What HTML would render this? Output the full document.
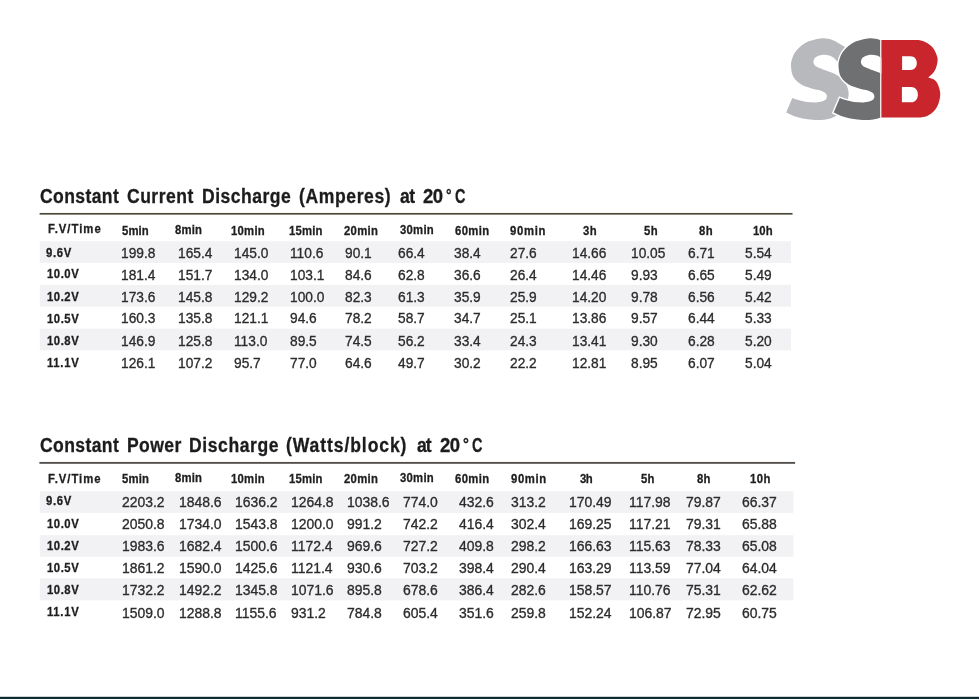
<!DOCTYPE html>
<html><head><meta charset="utf-8"><title>SSB discharge tables</title>
<style>
html,body{margin:0;padding:0;background:#fff;}
body{width:979px;height:699px;position:relative;overflow:hidden;font-family:"Liberation Sans", sans-serif;}
.t{position:absolute;transform-origin:0 0;white-space:nowrap;line-height:20px;height:20px;font-family:"Liberation Sans", sans-serif;}
.r{position:absolute;}
#txt{position:absolute;left:0;top:0;width:979px;height:699px;will-change:transform;}
svg{position:absolute;}
</style></head><body>
<svg style="left:0;top:0" width="979" height="699" viewBox="0 0 979 699"><rect x="39.8" y="241.2" width="751.2" height="21.80" fill="#f2f2f5"/><rect x="39.8" y="284.85" width="751.2" height="21.90" fill="#f2f2f5"/><rect x="39.8" y="328.6" width="751.2" height="21.70" fill="#f2f2f5"/><rect x="39.8" y="491.2" width="753.6" height="21.70" fill="#f2f2f5"/><rect x="39.8" y="535.2" width="753.6" height="21.60" fill="#f2f2f5"/><rect x="39.8" y="578.4" width="753.6" height="21.90" fill="#f2f2f5"/><rect x="39.6" y="212.95" width="752.9" height="1.7" fill="#4d4b37"/><rect x="39.4" y="461.95" width="755.7" height="1.85" fill="#524e4b"/><rect x="0" y="696.8" width="979" height="2.2" fill="#0c2a35"/></svg>
<svg style="left:770px;top:25px" width="190" height="110" viewBox="770 25 190 110">
<path d="M847.5,48.5 C846.67,47.97 846.48,47.78 845.00,46.90 C843.52,46.02 840.60,44.32 838.60,43.20 C836.60,42.08 834.77,40.93 833.00,40.20 C831.23,39.47 829.78,39.12 828.00,38.80 C826.22,38.48 824.45,38.20 822.30,38.30 C820.15,38.40 817.48,38.85 815.10,39.40 C812.72,39.95 810.37,40.52 808.00,41.60 C805.63,42.68 803.05,44.12 800.90,45.90 C798.75,47.68 796.60,50.05 795.10,52.30 C793.60,54.55 792.58,57.27 791.90,59.40 C791.22,61.53 791.00,62.83 791.00,65.10 C791.00,67.37 791.45,70.97 791.90,73.00 C792.35,75.03 792.80,75.87 793.70,77.30 C794.60,78.73 795.75,80.23 797.30,81.60 C798.85,82.97 800.62,84.37 803.00,85.50 C805.38,86.63 808.98,87.63 811.60,88.40 C814.22,89.17 816.60,89.45 818.70,90.10 C820.80,90.75 822.92,91.58 824.20,92.30 C825.48,93.02 825.95,93.67 826.40,94.40 C826.85,95.13 826.95,95.93 826.90,96.70 C826.85,97.47 826.63,98.33 826.10,99.00 C825.57,99.67 825.17,100.15 823.70,100.70 C822.23,101.25 819.57,102.03 817.30,102.30 C815.03,102.57 812.48,102.48 810.10,102.30 C807.72,102.12 805.13,101.62 803.00,101.20 C800.87,100.78 799.08,100.33 797.30,99.80 C795.52,99.27 793.97,98.60 792.30,98.00 L786.2,112.6 C788.70,113.70 790.67,114.88 793.70,115.90 C796.73,116.92 800.83,118.03 804.40,118.70 C807.97,119.37 811.52,119.78 815.10,119.90 C818.68,120.02 822.93,119.78 825.90,119.40 C828.87,119.02 830.38,118.83 832.90,117.60 C835.42,116.37 838.77,114.27 841.00,112.00 C843.23,109.73 845.07,106.57 846.30,104.00 C847.53,101.43 848.05,98.78 848.40,96.60 C848.75,94.42 848.73,92.82 848.40,90.90 C848.07,88.98 847.30,86.95 846.40,85.10 C845.50,83.25 844.40,81.35 843.00,79.80 C841.60,78.25 839.68,76.93 838.00,75.80 C836.32,74.67 835.40,74.07 832.90,73.00 C830.40,71.93 825.72,70.43 823.00,69.40 C820.28,68.37 818.07,67.60 816.60,66.80 C815.13,66.00 814.73,65.43 814.20,64.60 C813.67,63.77 813.40,62.75 813.40,61.80 C813.40,60.85 813.67,59.75 814.20,58.90 C814.73,58.05 815.13,57.38 816.60,56.70 C818.07,56.02 820.88,54.98 823.00,54.80 C825.12,54.62 827.42,55.03 829.30,55.60 C831.18,56.17 832.98,57.23 834.30,58.20 C835.62,59.17 836.17,60.52 837.20,61.40 C838.23,62.28 839.40,62.80 840.50,63.50 Z" fill="#b7b9bc"/>
<g transform="translate(47.5,0)"><path d="M847.5,48.5 C846.67,47.97 846.48,47.78 845.00,46.90 C843.52,46.02 840.60,44.32 838.60,43.20 C836.60,42.08 834.77,40.93 833.00,40.20 C831.23,39.47 829.78,39.12 828.00,38.80 C826.22,38.48 824.45,38.20 822.30,38.30 C820.15,38.40 817.48,38.85 815.10,39.40 C812.72,39.95 810.37,40.52 808.00,41.60 C805.63,42.68 803.05,44.12 800.90,45.90 C798.75,47.68 796.60,50.05 795.10,52.30 C793.60,54.55 792.58,57.27 791.90,59.40 C791.22,61.53 791.00,62.83 791.00,65.10 C791.00,67.37 791.45,70.97 791.90,73.00 C792.35,75.03 792.80,75.87 793.70,77.30 C794.60,78.73 795.75,80.23 797.30,81.60 C798.85,82.97 800.62,84.37 803.00,85.50 C805.38,86.63 808.98,87.63 811.60,88.40 C814.22,89.17 816.60,89.45 818.70,90.10 C820.80,90.75 822.92,91.58 824.20,92.30 C825.48,93.02 825.95,93.67 826.40,94.40 C826.85,95.13 826.95,95.93 826.90,96.70 C826.85,97.47 826.63,98.33 826.10,99.00 C825.57,99.67 825.17,100.15 823.70,100.70 C822.23,101.25 819.57,102.03 817.30,102.30 C815.03,102.57 812.48,102.48 810.10,102.30 C807.72,102.12 805.13,101.62 803.00,101.20 C800.87,100.78 799.08,100.33 797.30,99.80 C795.52,99.27 793.97,98.60 792.30,98.00 L786.2,112.6 C788.70,113.70 790.67,114.88 793.70,115.90 C796.73,116.92 800.83,118.03 804.40,118.70 C807.97,119.37 811.52,119.78 815.10,119.90 C818.68,120.02 822.93,119.78 825.90,119.40 C828.87,119.02 830.38,118.83 832.90,117.60 C835.42,116.37 838.77,114.27 841.00,112.00 C843.23,109.73 845.07,106.57 846.30,104.00 C847.53,101.43 848.05,98.78 848.40,96.60 C848.75,94.42 848.73,92.82 848.40,90.90 C848.07,88.98 847.30,86.95 846.40,85.10 C845.50,83.25 844.40,81.35 843.00,79.80 C841.60,78.25 839.68,76.93 838.00,75.80 C836.32,74.67 835.40,74.07 832.90,73.00 C830.40,71.93 825.72,70.43 823.00,69.40 C820.28,68.37 818.07,67.60 816.60,66.80 C815.13,66.00 814.73,65.43 814.20,64.60 C813.67,63.77 813.40,62.75 813.40,61.80 C813.40,60.85 813.67,59.75 814.20,58.90 C814.73,58.05 815.13,57.38 816.60,56.70 C818.07,56.02 820.88,54.98 823.00,54.80 C825.12,54.62 827.42,55.03 829.30,55.60 C831.18,56.17 832.98,57.23 834.30,58.20 C835.62,59.17 836.17,60.52 837.20,61.40 C838.23,62.28 839.40,62.80 840.50,63.50 Z" fill="#6f7072" stroke="#fff" stroke-width="2.8" paint-order="stroke" stroke-linejoin="miter"/></g>
<path d="M881.4,40.1 H918.6 C921.45,40.58 924.60,41.57 927.10,43.00 C929.60,44.43 931.93,46.43 933.60,48.70 C935.27,50.97 936.45,54.45 937.10,56.60 C937.75,58.75 937.73,59.58 937.50,61.60 C937.27,63.62 936.60,66.62 935.70,68.70 C934.80,70.78 933.35,72.62 932.10,74.10 C930.85,75.58 929.50,76.43 928.20,77.60 C930.23,78.33 932.68,78.67 934.30,79.80 C935.92,80.93 936.95,82.43 937.90,84.40 C938.85,86.37 939.65,89.45 940.00,91.60 C940.35,93.75 940.35,95.05 940.00,97.30 C939.65,99.55 938.97,102.72 937.90,105.10 C936.83,107.48 935.40,109.80 933.60,111.60 C931.80,113.40 929.60,114.90 927.10,115.90 C924.60,116.90 921.45,117.32 918.60,117.60 H881.4 Z M902.1,56.2 H910.5 C914.5,56.2 916.8,59 916.8,63.1 C916.8,67.2 914.5,70.1 910.5,70.1 H902.1 Z M901.9,86.9 H911 C915.4,86.9 917.9,90.2 917.9,94.5 C917.9,98.9 915.4,102.3 911,102.3 H901.9 Z" fill="#c8252c" fill-rule="evenodd"/>
<rect x="880.0" y="40.1" width="1.4" height="77.5" fill="#f1e4e4"/>
</svg>
<div id="txt">
<span class="t" style="left:39.50px;top:186px;font-size:19.5px;color:#1c1c1c;font-weight:700;transform:scaleX(0.9);-webkit-text-stroke:0.3px;letter-spacing:0.437px;">Constant</span>
<span class="t" style="left:127.00px;top:186px;font-size:19.5px;color:#1c1c1c;font-weight:700;transform:scaleX(0.9);-webkit-text-stroke:0.3px;letter-spacing:0.540px;">Current</span>
<span class="t" style="left:201.60px;top:186px;font-size:19.5px;color:#1c1c1c;font-weight:700;transform:scaleX(0.9);-webkit-text-stroke:0.3px;letter-spacing:0.541px;">Discharge</span>
<span class="t" style="left:298.75px;top:186px;font-size:19.5px;color:#1c1c1c;font-weight:700;transform:scaleX(0.9);-webkit-text-stroke:0.3px;letter-spacing:0.680px;">(Amperes)</span>
<span class="t" style="left:400.00px;top:186px;font-size:19.5px;color:#1c1c1c;font-weight:700;transform:scaleX(0.9);-webkit-text-stroke:0.3px;letter-spacing:-0.623px;">at</span>
<span class="t" style="left:423.00px;top:186px;font-size:19.5px;color:#1c1c1c;font-weight:700;transform:scaleX(0.95);-webkit-text-stroke:0.3px;letter-spacing:-0.477px;">20</span>
<span class="t" style="left:454.60px;top:186px;font-size:19.5px;color:#1c1c1c;font-weight:700;transform:scaleX(0.7428571428571412);-webkit-text-stroke:0.3px;">C</span>
<span class="t" style="left:39.50px;top:435px;font-size:19.5px;color:#1c1c1c;font-weight:700;transform:scaleX(0.9);-webkit-text-stroke:0.3px;letter-spacing:0.437px;">Constant</span>
<span class="t" style="left:126.60px;top:435px;font-size:19.5px;color:#1c1c1c;font-weight:700;transform:scaleX(0.9);-webkit-text-stroke:0.3px;letter-spacing:0.448px;">Power</span>
<span class="t" style="left:189.10px;top:435px;font-size:19.5px;color:#1c1c1c;font-weight:700;transform:scaleX(0.9);-webkit-text-stroke:0.3px;letter-spacing:0.646px;">Discharge</span>
<span class="t" style="left:286.25px;top:435px;font-size:19.5px;color:#1c1c1c;font-weight:700;transform:scaleX(0.9);-webkit-text-stroke:0.3px;letter-spacing:1.011px;">(Watts/block)</span>
<span class="t" style="left:417.00px;top:435px;font-size:19.5px;color:#1c1c1c;font-weight:700;transform:scaleX(0.9);-webkit-text-stroke:0.3px;letter-spacing:-1.178px;">at</span>
<span class="t" style="left:440.40px;top:435px;font-size:19.5px;color:#1c1c1c;font-weight:700;transform:scaleX(0.95);-webkit-text-stroke:0.3px;letter-spacing:-0.582px;">20</span>
<span class="t" style="left:471.70px;top:435px;font-size:19.5px;color:#1c1c1c;font-weight:700;transform:scaleX(0.7428571428571453);-webkit-text-stroke:0.3px;">C</span>
<span class="t" style="left:446.30px;top:186px;font-size:16px;color:#1c1c1c;font-weight:700;transform:scaleX(0.8666666666666648);-webkit-text-stroke:0.3px;">&deg;</span>
<span class="t" style="left:463.40px;top:435px;font-size:16px;color:#1c1c1c;font-weight:700;transform:scaleX(0.9166666666666666);-webkit-text-stroke:0.3px;">&deg;</span>
<span class="t" style="left:47.50px;top:219px;font-size:13px;color:#1e1e1e;font-weight:700;transform:scaleX(0.87);-webkit-text-stroke:0.3px;letter-spacing:1.153px;">F.V/Time</span>
<span class="t" style="left:122.00px;top:221px;font-size:13px;color:#1e1e1e;font-weight:700;transform:scaleX(0.87);-webkit-text-stroke:0.3px;letter-spacing:0.115px;">5min</span>
<span class="t" style="left:175.00px;top:220px;font-size:13px;color:#1e1e1e;font-weight:700;transform:scaleX(0.87);-webkit-text-stroke:0.3px;letter-spacing:0.211px;">8min</span>
<span class="t" style="left:231.25px;top:221px;font-size:13px;color:#1e1e1e;font-weight:700;transform:scaleX(0.87);-webkit-text-stroke:0.3px;letter-spacing:0.291px;">10min</span>
<span class="t" style="left:289.00px;top:221px;font-size:13px;color:#1e1e1e;font-weight:700;transform:scaleX(0.87);-webkit-text-stroke:0.3px;letter-spacing:0.190px;">15min</span>
<span class="t" style="left:344.30px;top:221px;font-size:13px;color:#1e1e1e;font-weight:700;transform:scaleX(0.87);-webkit-text-stroke:0.3px;letter-spacing:0.362px;">20min</span>
<span class="t" style="left:400.00px;top:220px;font-size:13px;color:#1e1e1e;font-weight:700;transform:scaleX(0.87);-webkit-text-stroke:0.3px;letter-spacing:0.305px;">30min</span>
<span class="t" style="left:454.50px;top:221px;font-size:13px;color:#1e1e1e;font-weight:700;transform:scaleX(0.87);-webkit-text-stroke:0.3px;letter-spacing:0.449px;">60min</span>
<span class="t" style="left:510.40px;top:221px;font-size:13px;color:#1e1e1e;font-weight:700;transform:scaleX(0.87);-webkit-text-stroke:0.3px;letter-spacing:0.765px;">90min</span>
<span class="t" style="left:582.60px;top:221px;font-size:13px;color:#1e1e1e;font-weight:700;transform:scaleX(0.87);-webkit-text-stroke:0.3px;letter-spacing:0.632px;">3h</span>
<span class="t" style="left:644.30px;top:221px;font-size:13px;color:#1e1e1e;font-weight:700;transform:scaleX(0.87);-webkit-text-stroke:0.3px;letter-spacing:0.402px;">5h</span>
<span class="t" style="left:699.30px;top:221px;font-size:13px;color:#1e1e1e;font-weight:700;transform:scaleX(0.87);-webkit-text-stroke:0.3px;letter-spacing:0.632px;">8h</span>
<span class="t" style="left:752.90px;top:221px;font-size:13px;color:#1e1e1e;font-weight:700;transform:scaleX(0.87);-webkit-text-stroke:0.3px;letter-spacing:0.092px;">10h</span>
<span class="t" style="left:47.70px;top:469px;font-size:13px;color:#1e1e1e;font-weight:700;transform:scaleX(0.87);-webkit-text-stroke:0.3px;letter-spacing:1.120px;">F.V/Time</span>
<span class="t" style="left:122.00px;top:469px;font-size:13px;color:#1e1e1e;font-weight:700;transform:scaleX(0.87);-webkit-text-stroke:0.3px;letter-spacing:0.211px;">5min</span>
<span class="t" style="left:175.00px;top:468px;font-size:13px;color:#1e1e1e;font-weight:700;transform:scaleX(0.87);-webkit-text-stroke:0.3px;letter-spacing:0.211px;">8min</span>
<span class="t" style="left:231.25px;top:469px;font-size:13px;color:#1e1e1e;font-weight:700;transform:scaleX(0.87);-webkit-text-stroke:0.3px;letter-spacing:0.291px;">10min</span>
<span class="t" style="left:289.00px;top:469px;font-size:13px;color:#1e1e1e;font-weight:700;transform:scaleX(0.87);-webkit-text-stroke:0.3px;letter-spacing:0.190px;">15min</span>
<span class="t" style="left:344.30px;top:469px;font-size:13px;color:#1e1e1e;font-weight:700;transform:scaleX(0.87);-webkit-text-stroke:0.3px;letter-spacing:0.362px;">20min</span>
<span class="t" style="left:400.00px;top:468px;font-size:13px;color:#1e1e1e;font-weight:700;transform:scaleX(0.87);-webkit-text-stroke:0.3px;letter-spacing:0.305px;">30min</span>
<span class="t" style="left:454.70px;top:469px;font-size:13px;color:#1e1e1e;font-weight:700;transform:scaleX(0.87);-webkit-text-stroke:0.3px;letter-spacing:0.449px;">60min</span>
<span class="t" style="left:510.80px;top:469px;font-size:13px;color:#1e1e1e;font-weight:700;transform:scaleX(0.87);-webkit-text-stroke:0.3px;letter-spacing:0.707px;">90min</span>
<span class="t" style="left:579.70px;top:469px;font-size:13px;color:#1e1e1e;font-weight:700;transform:scaleX(0.87);-webkit-text-stroke:0.3px;letter-spacing:-0.632px;">3h</span>
<span class="t" style="left:641.30px;top:469px;font-size:13px;color:#1e1e1e;font-weight:700;transform:scaleX(0.87);-webkit-text-stroke:0.3px;letter-spacing:0.172px;">5h</span>
<span class="t" style="left:696.80px;top:469px;font-size:13px;color:#1e1e1e;font-weight:700;transform:scaleX(0.87);-webkit-text-stroke:0.3px;letter-spacing:0.172px;">8h</span>
<span class="t" style="left:749.80px;top:469px;font-size:13px;color:#1e1e1e;font-weight:700;transform:scaleX(0.87);-webkit-text-stroke:0.3px;letter-spacing:0.552px;">10h</span>
<span class="t" style="left:46.30px;top:243px;font-size:13px;color:#1e1e1e;font-weight:700;transform:scaleX(0.87);-webkit-text-stroke:0.3px;letter-spacing:0.746px;">9.6V</span>
<span class="t" style="left:121.30px;top:244px;font-size:13.8px;color:#2b2b2b;transform:scaleX(0.995);-webkit-text-stroke:0.3px;">199.8</span>
<span class="t" style="left:177.75px;top:244px;font-size:13.8px;color:#2b2b2b;transform:scaleX(0.995);-webkit-text-stroke:0.3px;">165.4</span>
<span class="t" style="left:234.00px;top:244px;font-size:13.8px;color:#2b2b2b;transform:scaleX(0.995);-webkit-text-stroke:0.3px;">145.0</span>
<span class="t" style="left:289.50px;top:244px;font-size:13.8px;color:#2b2b2b;transform:scaleX(0.995);-webkit-text-stroke:0.3px;">110.6</span>
<span class="t" style="left:345.00px;top:244px;font-size:13.8px;color:#2b2b2b;transform:scaleX(0.995);-webkit-text-stroke:0.3px;">90.1</span>
<span class="t" style="left:397.50px;top:244px;font-size:13.8px;color:#2b2b2b;transform:scaleX(0.995);-webkit-text-stroke:0.3px;">66.4</span>
<span class="t" style="left:453.75px;top:244px;font-size:13.8px;color:#2b2b2b;transform:scaleX(0.995);-webkit-text-stroke:0.3px;">38.4</span>
<span class="t" style="left:510.00px;top:244px;font-size:13.8px;color:#2b2b2b;transform:scaleX(0.995);-webkit-text-stroke:0.3px;">27.6</span>
<span class="t" style="left:572.30px;top:244px;font-size:13.8px;color:#2b2b2b;transform:scaleX(0.995);-webkit-text-stroke:0.3px;">14.66</span>
<span class="t" style="left:631.30px;top:244px;font-size:13.8px;color:#2b2b2b;transform:scaleX(0.995);-webkit-text-stroke:0.3px;">10.05</span>
<span class="t" style="left:688.00px;top:244px;font-size:13.8px;color:#2b2b2b;transform:scaleX(0.995);-webkit-text-stroke:0.3px;">6.71</span>
<span class="t" style="left:744.50px;top:244px;font-size:13.8px;color:#2b2b2b;transform:scaleX(0.995);-webkit-text-stroke:0.3px;">5.54</span>
<span class="t" style="left:46.80px;top:264px;font-size:13px;color:#1e1e1e;font-weight:700;transform:scaleX(0.87);-webkit-text-stroke:0.3px;letter-spacing:0.620px;">10.0V</span>
<span class="t" style="left:121.30px;top:266px;font-size:13.8px;color:#2b2b2b;transform:scaleX(0.995);-webkit-text-stroke:0.3px;">181.4</span>
<span class="t" style="left:177.75px;top:266px;font-size:13.8px;color:#2b2b2b;transform:scaleX(0.995);-webkit-text-stroke:0.3px;">151.7</span>
<span class="t" style="left:234.00px;top:266px;font-size:13.8px;color:#2b2b2b;transform:scaleX(0.995);-webkit-text-stroke:0.3px;">134.0</span>
<span class="t" style="left:289.50px;top:266px;font-size:13.8px;color:#2b2b2b;transform:scaleX(0.995);-webkit-text-stroke:0.3px;">103.1</span>
<span class="t" style="left:345.00px;top:266px;font-size:13.8px;color:#2b2b2b;transform:scaleX(0.995);-webkit-text-stroke:0.3px;">84.6</span>
<span class="t" style="left:397.50px;top:266px;font-size:13.8px;color:#2b2b2b;transform:scaleX(0.995);-webkit-text-stroke:0.3px;">62.8</span>
<span class="t" style="left:453.75px;top:266px;font-size:13.8px;color:#2b2b2b;transform:scaleX(0.995);-webkit-text-stroke:0.3px;">36.6</span>
<span class="t" style="left:510.00px;top:266px;font-size:13.8px;color:#2b2b2b;transform:scaleX(0.995);-webkit-text-stroke:0.3px;">26.4</span>
<span class="t" style="left:572.30px;top:266px;font-size:13.8px;color:#2b2b2b;transform:scaleX(0.995);-webkit-text-stroke:0.3px;">14.46</span>
<span class="t" style="left:631.30px;top:266px;font-size:13.8px;color:#2b2b2b;transform:scaleX(0.995);-webkit-text-stroke:0.3px;">9.93</span>
<span class="t" style="left:688.00px;top:266px;font-size:13.8px;color:#2b2b2b;transform:scaleX(0.995);-webkit-text-stroke:0.3px;">6.65</span>
<span class="t" style="left:744.50px;top:266px;font-size:13.8px;color:#2b2b2b;transform:scaleX(0.995);-webkit-text-stroke:0.3px;">5.49</span>
<span class="t" style="left:46.80px;top:287px;font-size:13px;color:#1e1e1e;font-weight:700;transform:scaleX(0.87);-webkit-text-stroke:0.3px;letter-spacing:0.620px;">10.2V</span>
<span class="t" style="left:121.30px;top:288px;font-size:13.8px;color:#2b2b2b;transform:scaleX(0.995);-webkit-text-stroke:0.3px;">173.6</span>
<span class="t" style="left:177.75px;top:288px;font-size:13.8px;color:#2b2b2b;transform:scaleX(0.995);-webkit-text-stroke:0.3px;">145.8</span>
<span class="t" style="left:234.00px;top:288px;font-size:13.8px;color:#2b2b2b;transform:scaleX(0.995);-webkit-text-stroke:0.3px;">129.2</span>
<span class="t" style="left:289.50px;top:288px;font-size:13.8px;color:#2b2b2b;transform:scaleX(0.995);-webkit-text-stroke:0.3px;">100.0</span>
<span class="t" style="left:345.00px;top:288px;font-size:13.8px;color:#2b2b2b;transform:scaleX(0.995);-webkit-text-stroke:0.3px;">82.3</span>
<span class="t" style="left:397.50px;top:288px;font-size:13.8px;color:#2b2b2b;transform:scaleX(0.995);-webkit-text-stroke:0.3px;">61.3</span>
<span class="t" style="left:453.75px;top:288px;font-size:13.8px;color:#2b2b2b;transform:scaleX(0.995);-webkit-text-stroke:0.3px;">35.9</span>
<span class="t" style="left:510.00px;top:288px;font-size:13.8px;color:#2b2b2b;transform:scaleX(0.995);-webkit-text-stroke:0.3px;">25.9</span>
<span class="t" style="left:572.30px;top:288px;font-size:13.8px;color:#2b2b2b;transform:scaleX(0.995);-webkit-text-stroke:0.3px;">14.20</span>
<span class="t" style="left:631.30px;top:288px;font-size:13.8px;color:#2b2b2b;transform:scaleX(0.995);-webkit-text-stroke:0.3px;">9.78</span>
<span class="t" style="left:688.00px;top:288px;font-size:13.8px;color:#2b2b2b;transform:scaleX(0.995);-webkit-text-stroke:0.3px;">6.56</span>
<span class="t" style="left:744.50px;top:288px;font-size:13.8px;color:#2b2b2b;transform:scaleX(0.995);-webkit-text-stroke:0.3px;">5.42</span>
<span class="t" style="left:46.80px;top:309px;font-size:13px;color:#1e1e1e;font-weight:700;transform:scaleX(0.87);-webkit-text-stroke:0.3px;letter-spacing:0.620px;">10.5V</span>
<span class="t" style="left:121.30px;top:309px;font-size:13.8px;color:#2b2b2b;transform:scaleX(0.995);-webkit-text-stroke:0.3px;">160.3</span>
<span class="t" style="left:177.75px;top:309px;font-size:13.8px;color:#2b2b2b;transform:scaleX(0.995);-webkit-text-stroke:0.3px;">135.8</span>
<span class="t" style="left:234.00px;top:309px;font-size:13.8px;color:#2b2b2b;transform:scaleX(0.995);-webkit-text-stroke:0.3px;">121.1</span>
<span class="t" style="left:289.50px;top:309px;font-size:13.8px;color:#2b2b2b;transform:scaleX(0.995);-webkit-text-stroke:0.3px;">94.6</span>
<span class="t" style="left:345.00px;top:309px;font-size:13.8px;color:#2b2b2b;transform:scaleX(0.995);-webkit-text-stroke:0.3px;">78.2</span>
<span class="t" style="left:397.50px;top:309px;font-size:13.8px;color:#2b2b2b;transform:scaleX(0.995);-webkit-text-stroke:0.3px;">58.7</span>
<span class="t" style="left:453.75px;top:309px;font-size:13.8px;color:#2b2b2b;transform:scaleX(0.995);-webkit-text-stroke:0.3px;">34.7</span>
<span class="t" style="left:510.00px;top:309px;font-size:13.8px;color:#2b2b2b;transform:scaleX(0.995);-webkit-text-stroke:0.3px;">25.1</span>
<span class="t" style="left:572.30px;top:309px;font-size:13.8px;color:#2b2b2b;transform:scaleX(0.995);-webkit-text-stroke:0.3px;">13.86</span>
<span class="t" style="left:631.30px;top:309px;font-size:13.8px;color:#2b2b2b;transform:scaleX(0.995);-webkit-text-stroke:0.3px;">9.57</span>
<span class="t" style="left:688.00px;top:309px;font-size:13.8px;color:#2b2b2b;transform:scaleX(0.995);-webkit-text-stroke:0.3px;">6.44</span>
<span class="t" style="left:744.50px;top:309px;font-size:13.8px;color:#2b2b2b;transform:scaleX(0.995);-webkit-text-stroke:0.3px;">5.33</span>
<span class="t" style="left:46.80px;top:331px;font-size:13px;color:#1e1e1e;font-weight:700;transform:scaleX(0.87);-webkit-text-stroke:0.3px;letter-spacing:0.620px;">10.8V</span>
<span class="t" style="left:121.30px;top:332px;font-size:13.8px;color:#2b2b2b;transform:scaleX(0.995);-webkit-text-stroke:0.3px;">146.9</span>
<span class="t" style="left:177.75px;top:332px;font-size:13.8px;color:#2b2b2b;transform:scaleX(0.995);-webkit-text-stroke:0.3px;">125.8</span>
<span class="t" style="left:234.00px;top:332px;font-size:13.8px;color:#2b2b2b;transform:scaleX(0.995);-webkit-text-stroke:0.3px;">113.0</span>
<span class="t" style="left:289.50px;top:332px;font-size:13.8px;color:#2b2b2b;transform:scaleX(0.995);-webkit-text-stroke:0.3px;">89.5</span>
<span class="t" style="left:345.00px;top:332px;font-size:13.8px;color:#2b2b2b;transform:scaleX(0.995);-webkit-text-stroke:0.3px;">74.5</span>
<span class="t" style="left:397.50px;top:332px;font-size:13.8px;color:#2b2b2b;transform:scaleX(0.995);-webkit-text-stroke:0.3px;">56.2</span>
<span class="t" style="left:453.75px;top:332px;font-size:13.8px;color:#2b2b2b;transform:scaleX(0.995);-webkit-text-stroke:0.3px;">33.4</span>
<span class="t" style="left:510.00px;top:332px;font-size:13.8px;color:#2b2b2b;transform:scaleX(0.995);-webkit-text-stroke:0.3px;">24.3</span>
<span class="t" style="left:572.30px;top:332px;font-size:13.8px;color:#2b2b2b;transform:scaleX(0.995);-webkit-text-stroke:0.3px;">13.41</span>
<span class="t" style="left:631.30px;top:332px;font-size:13.8px;color:#2b2b2b;transform:scaleX(0.995);-webkit-text-stroke:0.3px;">9.30</span>
<span class="t" style="left:688.00px;top:332px;font-size:13.8px;color:#2b2b2b;transform:scaleX(0.995);-webkit-text-stroke:0.3px;">6.28</span>
<span class="t" style="left:744.50px;top:332px;font-size:13.8px;color:#2b2b2b;transform:scaleX(0.995);-webkit-text-stroke:0.3px;">5.20</span>
<span class="t" style="left:46.80px;top:353px;font-size:13px;color:#1e1e1e;font-weight:700;transform:scaleX(0.87);-webkit-text-stroke:0.3px;letter-spacing:0.799px;">11.1V</span>
<span class="t" style="left:121.30px;top:354px;font-size:13.8px;color:#2b2b2b;transform:scaleX(0.995);-webkit-text-stroke:0.3px;">126.1</span>
<span class="t" style="left:177.75px;top:354px;font-size:13.8px;color:#2b2b2b;transform:scaleX(0.995);-webkit-text-stroke:0.3px;">107.2</span>
<span class="t" style="left:234.00px;top:354px;font-size:13.8px;color:#2b2b2b;transform:scaleX(0.995);-webkit-text-stroke:0.3px;">95.7</span>
<span class="t" style="left:289.50px;top:354px;font-size:13.8px;color:#2b2b2b;transform:scaleX(0.995);-webkit-text-stroke:0.3px;">77.0</span>
<span class="t" style="left:345.00px;top:354px;font-size:13.8px;color:#2b2b2b;transform:scaleX(0.995);-webkit-text-stroke:0.3px;">64.6</span>
<span class="t" style="left:397.50px;top:354px;font-size:13.8px;color:#2b2b2b;transform:scaleX(0.995);-webkit-text-stroke:0.3px;">49.7</span>
<span class="t" style="left:453.75px;top:354px;font-size:13.8px;color:#2b2b2b;transform:scaleX(0.995);-webkit-text-stroke:0.3px;">30.2</span>
<span class="t" style="left:510.00px;top:354px;font-size:13.8px;color:#2b2b2b;transform:scaleX(0.995);-webkit-text-stroke:0.3px;">22.2</span>
<span class="t" style="left:572.30px;top:354px;font-size:13.8px;color:#2b2b2b;transform:scaleX(0.995);-webkit-text-stroke:0.3px;">12.81</span>
<span class="t" style="left:631.30px;top:354px;font-size:13.8px;color:#2b2b2b;transform:scaleX(0.995);-webkit-text-stroke:0.3px;">8.95</span>
<span class="t" style="left:688.00px;top:354px;font-size:13.8px;color:#2b2b2b;transform:scaleX(0.995);-webkit-text-stroke:0.3px;">6.07</span>
<span class="t" style="left:744.50px;top:354px;font-size:13.8px;color:#2b2b2b;transform:scaleX(0.995);-webkit-text-stroke:0.3px;">5.04</span>
<span class="t" style="left:46.30px;top:491px;font-size:13px;color:#1e1e1e;font-weight:700;transform:scaleX(0.87);-webkit-text-stroke:0.3px;letter-spacing:0.746px;">9.6V</span>
<span class="t" style="left:122.20px;top:493px;font-size:13.8px;color:#2b2b2b;transform:scaleX(1.01);-webkit-text-stroke:0.3px;">2203.2</span>
<span class="t" style="left:179.09px;top:493px;font-size:13.8px;color:#2b2b2b;transform:scaleX(1.01);-webkit-text-stroke:0.3px;">1848.6</span>
<span class="t" style="left:234.59px;top:493px;font-size:13.8px;color:#2b2b2b;transform:scaleX(1.01);-webkit-text-stroke:0.3px;">1636.2</span>
<span class="t" style="left:290.79px;top:493px;font-size:13.8px;color:#2b2b2b;transform:scaleX(1.01);-webkit-text-stroke:0.3px;">1264.8</span>
<span class="t" style="left:346.99px;top:493px;font-size:13.8px;color:#2b2b2b;transform:scaleX(1.01);-webkit-text-stroke:0.3px;">1038.6</span>
<span class="t" style="left:402.70px;top:493px;font-size:13.8px;color:#2b2b2b;transform:scaleX(1.01);-webkit-text-stroke:0.3px;">774.0</span>
<span class="t" style="left:458.90px;top:493px;font-size:13.8px;color:#2b2b2b;transform:scaleX(1.01);-webkit-text-stroke:0.3px;">432.6</span>
<span class="t" style="left:511.40px;top:493px;font-size:13.8px;color:#2b2b2b;transform:scaleX(1.01);-webkit-text-stroke:0.3px;">313.2</span>
<span class="t" style="left:569.19px;top:493px;font-size:13.8px;color:#2b2b2b;transform:scaleX(1.01);-webkit-text-stroke:0.3px;">170.49</span>
<span class="t" style="left:629.19px;top:493px;font-size:13.8px;color:#2b2b2b;transform:scaleX(1.01);-webkit-text-stroke:0.3px;">117.98</span>
<span class="t" style="left:686.00px;top:493px;font-size:13.8px;color:#2b2b2b;transform:scaleX(1.01);-webkit-text-stroke:0.3px;">79.87</span>
<span class="t" style="left:742.40px;top:493px;font-size:13.8px;color:#2b2b2b;transform:scaleX(1.01);-webkit-text-stroke:0.3px;">66.37</span>
<span class="t" style="left:46.80px;top:514px;font-size:13px;color:#1e1e1e;font-weight:700;transform:scaleX(0.87);-webkit-text-stroke:0.3px;letter-spacing:0.620px;">10.0V</span>
<span class="t" style="left:122.20px;top:515px;font-size:13.8px;color:#2b2b2b;transform:scaleX(1.01);-webkit-text-stroke:0.3px;">2050.8</span>
<span class="t" style="left:179.09px;top:515px;font-size:13.8px;color:#2b2b2b;transform:scaleX(1.01);-webkit-text-stroke:0.3px;">1734.0</span>
<span class="t" style="left:234.59px;top:515px;font-size:13.8px;color:#2b2b2b;transform:scaleX(1.01);-webkit-text-stroke:0.3px;">1543.8</span>
<span class="t" style="left:290.79px;top:515px;font-size:13.8px;color:#2b2b2b;transform:scaleX(1.01);-webkit-text-stroke:0.3px;">1200.0</span>
<span class="t" style="left:346.99px;top:515px;font-size:13.8px;color:#2b2b2b;transform:scaleX(1.01);-webkit-text-stroke:0.3px;">991.2</span>
<span class="t" style="left:402.70px;top:515px;font-size:13.8px;color:#2b2b2b;transform:scaleX(1.01);-webkit-text-stroke:0.3px;">742.2</span>
<span class="t" style="left:458.90px;top:515px;font-size:13.8px;color:#2b2b2b;transform:scaleX(1.01);-webkit-text-stroke:0.3px;">416.4</span>
<span class="t" style="left:511.40px;top:515px;font-size:13.8px;color:#2b2b2b;transform:scaleX(1.01);-webkit-text-stroke:0.3px;">302.4</span>
<span class="t" style="left:569.19px;top:515px;font-size:13.8px;color:#2b2b2b;transform:scaleX(1.01);-webkit-text-stroke:0.3px;">169.25</span>
<span class="t" style="left:629.19px;top:515px;font-size:13.8px;color:#2b2b2b;transform:scaleX(1.01);-webkit-text-stroke:0.3px;">117.21</span>
<span class="t" style="left:686.00px;top:515px;font-size:13.8px;color:#2b2b2b;transform:scaleX(1.01);-webkit-text-stroke:0.3px;">79.31</span>
<span class="t" style="left:742.40px;top:515px;font-size:13.8px;color:#2b2b2b;transform:scaleX(1.01);-webkit-text-stroke:0.3px;">65.88</span>
<span class="t" style="left:46.80px;top:536px;font-size:13px;color:#1e1e1e;font-weight:700;transform:scaleX(0.87);-webkit-text-stroke:0.3px;letter-spacing:0.620px;">10.2V</span>
<span class="t" style="left:122.20px;top:537px;font-size:13.8px;color:#2b2b2b;transform:scaleX(1.01);-webkit-text-stroke:0.3px;">1983.6</span>
<span class="t" style="left:179.09px;top:537px;font-size:13.8px;color:#2b2b2b;transform:scaleX(1.01);-webkit-text-stroke:0.3px;">1682.4</span>
<span class="t" style="left:234.59px;top:537px;font-size:13.8px;color:#2b2b2b;transform:scaleX(1.01);-webkit-text-stroke:0.3px;">1500.6</span>
<span class="t" style="left:290.79px;top:537px;font-size:13.8px;color:#2b2b2b;transform:scaleX(1.01);-webkit-text-stroke:0.3px;">1172.4</span>
<span class="t" style="left:346.99px;top:537px;font-size:13.8px;color:#2b2b2b;transform:scaleX(1.01);-webkit-text-stroke:0.3px;">969.6</span>
<span class="t" style="left:402.70px;top:537px;font-size:13.8px;color:#2b2b2b;transform:scaleX(1.01);-webkit-text-stroke:0.3px;">727.2</span>
<span class="t" style="left:458.90px;top:537px;font-size:13.8px;color:#2b2b2b;transform:scaleX(1.01);-webkit-text-stroke:0.3px;">409.8</span>
<span class="t" style="left:511.40px;top:537px;font-size:13.8px;color:#2b2b2b;transform:scaleX(1.01);-webkit-text-stroke:0.3px;">298.2</span>
<span class="t" style="left:569.19px;top:537px;font-size:13.8px;color:#2b2b2b;transform:scaleX(1.01);-webkit-text-stroke:0.3px;">166.63</span>
<span class="t" style="left:629.19px;top:537px;font-size:13.8px;color:#2b2b2b;transform:scaleX(1.01);-webkit-text-stroke:0.3px;">115.63</span>
<span class="t" style="left:686.00px;top:537px;font-size:13.8px;color:#2b2b2b;transform:scaleX(1.01);-webkit-text-stroke:0.3px;">78.33</span>
<span class="t" style="left:742.40px;top:537px;font-size:13.8px;color:#2b2b2b;transform:scaleX(1.01);-webkit-text-stroke:0.3px;">65.08</span>
<span class="t" style="left:46.80px;top:558px;font-size:13px;color:#1e1e1e;font-weight:700;transform:scaleX(0.87);-webkit-text-stroke:0.3px;letter-spacing:0.620px;">10.5V</span>
<span class="t" style="left:122.20px;top:559px;font-size:13.8px;color:#2b2b2b;transform:scaleX(1.01);-webkit-text-stroke:0.3px;">1861.2</span>
<span class="t" style="left:179.09px;top:559px;font-size:13.8px;color:#2b2b2b;transform:scaleX(1.01);-webkit-text-stroke:0.3px;">1590.0</span>
<span class="t" style="left:234.59px;top:559px;font-size:13.8px;color:#2b2b2b;transform:scaleX(1.01);-webkit-text-stroke:0.3px;">1425.6</span>
<span class="t" style="left:290.79px;top:559px;font-size:13.8px;color:#2b2b2b;transform:scaleX(1.01);-webkit-text-stroke:0.3px;">1121.4</span>
<span class="t" style="left:346.99px;top:559px;font-size:13.8px;color:#2b2b2b;transform:scaleX(1.01);-webkit-text-stroke:0.3px;">930.6</span>
<span class="t" style="left:402.70px;top:559px;font-size:13.8px;color:#2b2b2b;transform:scaleX(1.01);-webkit-text-stroke:0.3px;">703.2</span>
<span class="t" style="left:458.90px;top:559px;font-size:13.8px;color:#2b2b2b;transform:scaleX(1.01);-webkit-text-stroke:0.3px;">398.4</span>
<span class="t" style="left:511.40px;top:559px;font-size:13.8px;color:#2b2b2b;transform:scaleX(1.01);-webkit-text-stroke:0.3px;">290.4</span>
<span class="t" style="left:569.19px;top:559px;font-size:13.8px;color:#2b2b2b;transform:scaleX(1.01);-webkit-text-stroke:0.3px;">163.29</span>
<span class="t" style="left:629.19px;top:559px;font-size:13.8px;color:#2b2b2b;transform:scaleX(1.01);-webkit-text-stroke:0.3px;">113.59</span>
<span class="t" style="left:686.00px;top:559px;font-size:13.8px;color:#2b2b2b;transform:scaleX(1.01);-webkit-text-stroke:0.3px;">77.04</span>
<span class="t" style="left:742.40px;top:559px;font-size:13.8px;color:#2b2b2b;transform:scaleX(1.01);-webkit-text-stroke:0.3px;">64.04</span>
<span class="t" style="left:46.80px;top:580px;font-size:13px;color:#1e1e1e;font-weight:700;transform:scaleX(0.87);-webkit-text-stroke:0.3px;letter-spacing:0.620px;">10.8V</span>
<span class="t" style="left:122.20px;top:581px;font-size:13.8px;color:#2b2b2b;transform:scaleX(1.01);-webkit-text-stroke:0.3px;">1732.2</span>
<span class="t" style="left:179.09px;top:581px;font-size:13.8px;color:#2b2b2b;transform:scaleX(1.01);-webkit-text-stroke:0.3px;">1492.2</span>
<span class="t" style="left:234.59px;top:581px;font-size:13.8px;color:#2b2b2b;transform:scaleX(1.01);-webkit-text-stroke:0.3px;">1345.8</span>
<span class="t" style="left:290.79px;top:581px;font-size:13.8px;color:#2b2b2b;transform:scaleX(1.01);-webkit-text-stroke:0.3px;">1071.6</span>
<span class="t" style="left:346.99px;top:581px;font-size:13.8px;color:#2b2b2b;transform:scaleX(1.01);-webkit-text-stroke:0.3px;">895.8</span>
<span class="t" style="left:402.70px;top:581px;font-size:13.8px;color:#2b2b2b;transform:scaleX(1.01);-webkit-text-stroke:0.3px;">678.6</span>
<span class="t" style="left:458.90px;top:581px;font-size:13.8px;color:#2b2b2b;transform:scaleX(1.01);-webkit-text-stroke:0.3px;">386.4</span>
<span class="t" style="left:511.40px;top:581px;font-size:13.8px;color:#2b2b2b;transform:scaleX(1.01);-webkit-text-stroke:0.3px;">282.6</span>
<span class="t" style="left:569.19px;top:581px;font-size:13.8px;color:#2b2b2b;transform:scaleX(1.01);-webkit-text-stroke:0.3px;">158.57</span>
<span class="t" style="left:629.19px;top:581px;font-size:13.8px;color:#2b2b2b;transform:scaleX(1.01);-webkit-text-stroke:0.3px;">110.76</span>
<span class="t" style="left:686.00px;top:581px;font-size:13.8px;color:#2b2b2b;transform:scaleX(1.01);-webkit-text-stroke:0.3px;">75.31</span>
<span class="t" style="left:742.40px;top:581px;font-size:13.8px;color:#2b2b2b;transform:scaleX(1.01);-webkit-text-stroke:0.3px;">62.62</span>
<span class="t" style="left:46.80px;top:602px;font-size:13px;color:#1e1e1e;font-weight:700;transform:scaleX(0.87);-webkit-text-stroke:0.3px;letter-spacing:0.799px;">11.1V</span>
<span class="t" style="left:122.20px;top:604px;font-size:13.8px;color:#2b2b2b;transform:scaleX(1.01);-webkit-text-stroke:0.3px;">1509.0</span>
<span class="t" style="left:179.09px;top:604px;font-size:13.8px;color:#2b2b2b;transform:scaleX(1.01);-webkit-text-stroke:0.3px;">1288.8</span>
<span class="t" style="left:234.59px;top:604px;font-size:13.8px;color:#2b2b2b;transform:scaleX(1.01);-webkit-text-stroke:0.3px;">1155.6</span>
<span class="t" style="left:290.79px;top:604px;font-size:13.8px;color:#2b2b2b;transform:scaleX(1.01);-webkit-text-stroke:0.3px;">931.2</span>
<span class="t" style="left:346.99px;top:604px;font-size:13.8px;color:#2b2b2b;transform:scaleX(1.01);-webkit-text-stroke:0.3px;">784.8</span>
<span class="t" style="left:402.70px;top:604px;font-size:13.8px;color:#2b2b2b;transform:scaleX(1.01);-webkit-text-stroke:0.3px;">605.4</span>
<span class="t" style="left:458.90px;top:604px;font-size:13.8px;color:#2b2b2b;transform:scaleX(1.01);-webkit-text-stroke:0.3px;">351.6</span>
<span class="t" style="left:511.40px;top:604px;font-size:13.8px;color:#2b2b2b;transform:scaleX(1.01);-webkit-text-stroke:0.3px;">259.8</span>
<span class="t" style="left:569.19px;top:604px;font-size:13.8px;color:#2b2b2b;transform:scaleX(1.01);-webkit-text-stroke:0.3px;">152.24</span>
<span class="t" style="left:629.19px;top:604px;font-size:13.8px;color:#2b2b2b;transform:scaleX(1.01);-webkit-text-stroke:0.3px;">106.87</span>
<span class="t" style="left:686.00px;top:604px;font-size:13.8px;color:#2b2b2b;transform:scaleX(1.01);-webkit-text-stroke:0.3px;">72.95</span>
<span class="t" style="left:742.40px;top:604px;font-size:13.8px;color:#2b2b2b;transform:scaleX(1.01);-webkit-text-stroke:0.3px;">60.75</span>
</div>
</body></html>
